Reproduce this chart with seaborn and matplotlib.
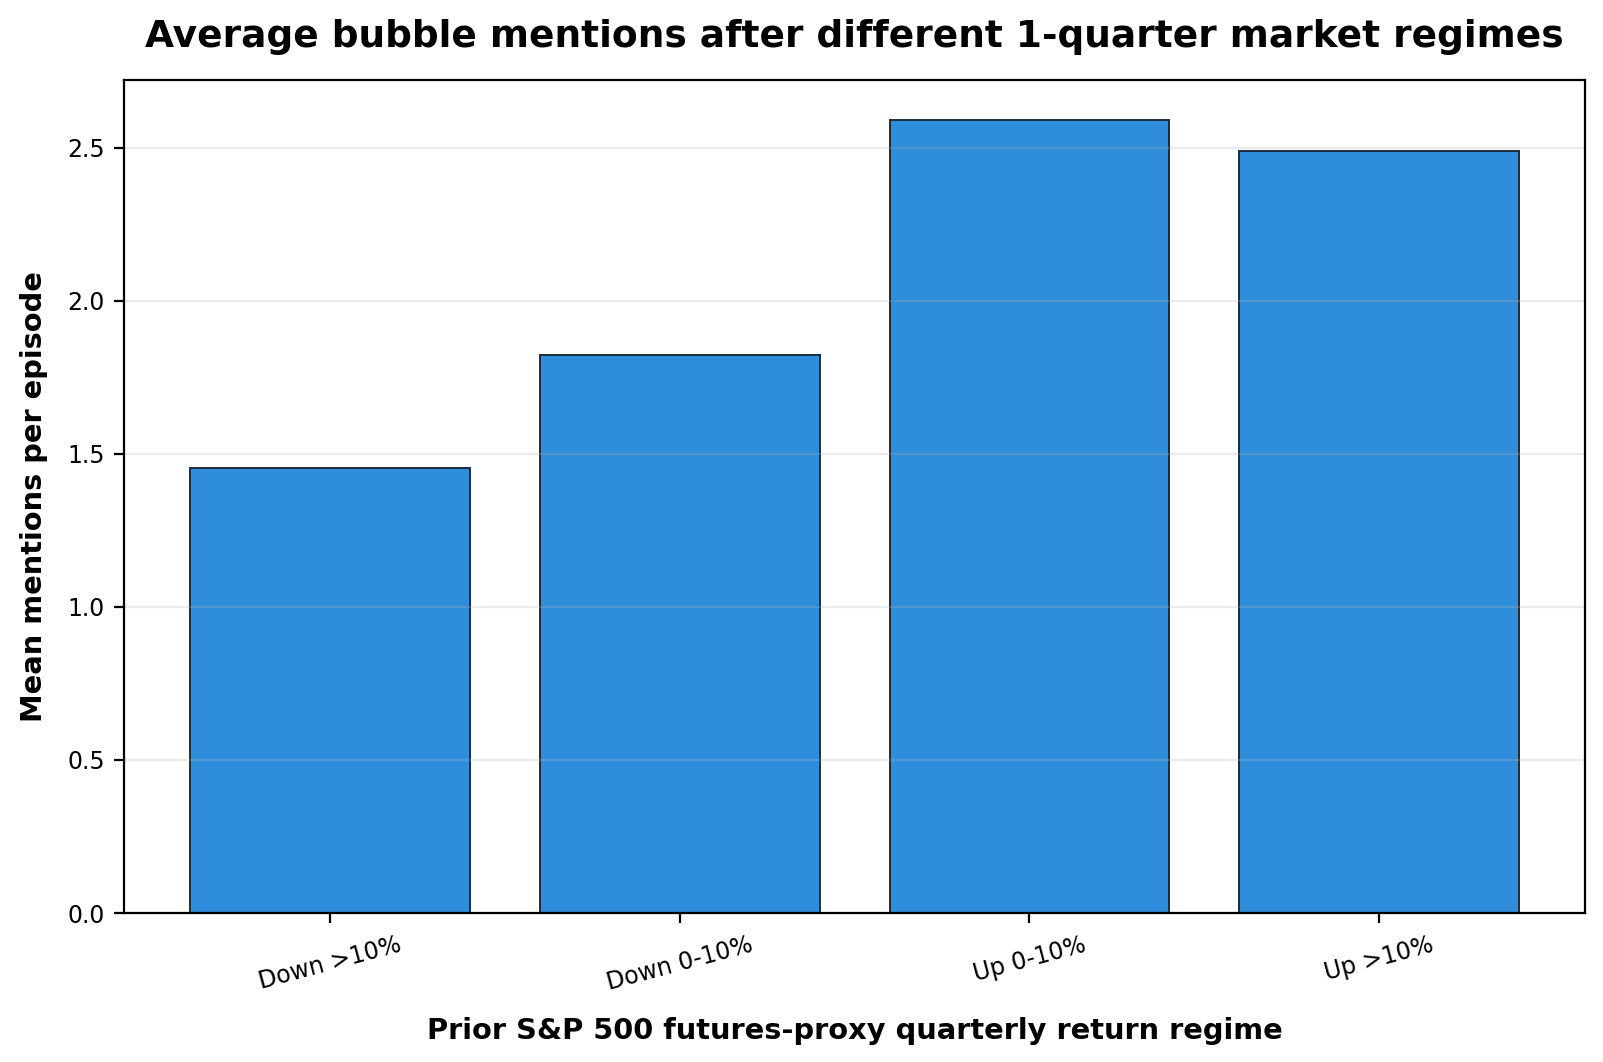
import pandas as pd
import matplotlib
matplotlib.use("Agg")
import matplotlib.pyplot as plt
import seaborn as sns

# regimes and mean mentions
regimes = ["Down >10%", "Down 0-10%", "Up 0-10%", "Up >10%"]
mean_mentions = [1.455, 1.822, 2.592, 2.489]


def main():
    df = pd.DataFrame({"regime": regimes, "mentions": mean_mentions})

    fig = plt.figure(figsize=(8.015, 5.31), dpi=200)
    ax = fig.add_axes([0.0774, 0.1403, 0.9114, 0.7844])

    sns.barplot(data=df, x="regime", y="mentions", order=regimes,
                color="#2E8EDB", saturation=1, edgecolor="#1c2b3a",
                linewidth=0.7, width=0.8, ax=ax)

    ax.set_xlim(-0.59, 3.59)
    ax.set_ylim(0, 2.7216)
    ax.grid(axis="y", alpha=0.25)
    ax.set_axisbelow("line")
    ax.tick_params(labelsize=8.5)

    ax.set_title("Average bubble mentions after different 1-quarter market regimes",
                 fontsize=13.5, fontweight="bold", pad=12)
    ax.set_xlabel("Prior S&P 500 futures-proxy quarterly return regime",
                  fontsize=10.4, fontweight="bold", labelpad=8)
    ax.set_ylabel("Mean mentions per episode", fontsize=10.4, fontweight="bold",
                  labelpad=7)
    plt.setp(ax.get_xticklabels(), rotation=15)

    fig.savefig("out.png", dpi=200)


if __name__ == '__main__': main()
